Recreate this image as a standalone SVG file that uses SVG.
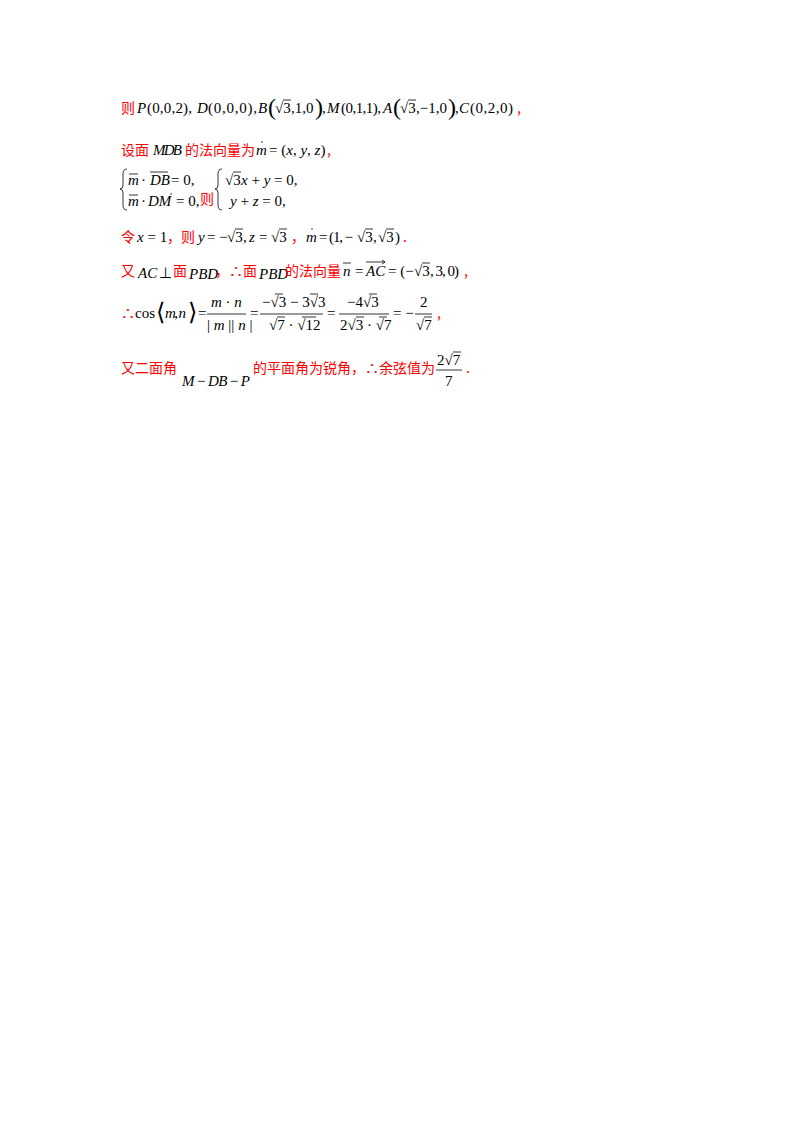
<svg xmlns="http://www.w3.org/2000/svg" width="800" height="1132" viewBox="0 0 800 1132">
<style>
.r{fill:#f00;font-family:"Noto Sans CJK SC",sans-serif;font-size:14px}
.m{fill:#000;font-family:"Liberation Serif",serif;font-size:15px}
.i{font-style:italic}
.big{font-size:24px;font-family:"Liberation Serif",serif;fill:#000}
line,path{stroke:#000;stroke-width:0.8;fill:none}
</style>
<rect width="800" height="1132" fill="#fff"/>
<g id="line1">
<text x="121" y="113" class="r">则</text>
<text x="137" y="113" class="m i">P</text><text x="147" y="113" class="m" textLength="45">(0,0,2),</text>
<text x="197" y="113" class="m i">D</text><text x="208" y="113" class="m" textLength="49">(0,0,0),</text>
<text x="258" y="113" class="m i">B</text><text x="268" y="115" class="big">(</text>
<text x="275" y="113" class="m">√3</text><line x1="283" y1="100" x2="291" y2="100"/>
<text x="291" y="113" class="m">,1,0</text><text x="315" y="115" class="big">)</text><text x="322" y="113" class="m">,</text>
<text x="327" y="113" class="m i">M</text><text x="341" y="113" class="m" textLength="40">(0,1,1),</text>
<text x="383" y="113" class="m i">A</text><text x="393" y="115" class="big">(</text>
<text x="400" y="113" class="m">√3</text><line x1="408" y1="100" x2="416" y2="100"/>
<text x="416" y="113" class="m">,−1,0</text><text x="448" y="115" class="big">)</text><text x="455" y="113" class="m">,</text>
<text x="459" y="113" class="m i">C</text><text x="470" y="113" class="m" textLength="43">(0,2,0)</text>
<text x="517" y="113" class="r">,</text>
</g>
<g id="line2">
<text x="121" y="155" class="r">设面</text>
<text x="153" y="155" class="m i" font-size="14" textLength="29">MDB</text>
<text x="185" y="155" class="r">的法向量为</text>
<text x="256" y="155" class="m i">m</text><circle cx="262" cy="142" r="0.7"/>
<text x="269" y="155" class="m">= (<tspan class="i">x</tspan>, <tspan class="i">y</tspan>, <tspan class="i">z</tspan>)</text>
<text x="327" y="155" class="r">,</text>
</g>
<g id="line3">
<path d="M127,169 Q123,169 123,174 L123,185 Q123,189 120,189 Q123,189 123,193 L123,205 Q123,210 127,210"/>
<text x="128" y="185" class="m i">m</text><line x1="129" y1="174" x2="138" y2="174"/>
<text x="141" y="185" class="m">·</text>
<text x="150" y="185" class="m i">DB</text><line x1="150" y1="172" x2="168" y2="172"/>
<text x="171" y="185" class="m">= 0,</text>
<text x="128" y="206" class="m i">m</text><line x1="129" y1="195" x2="138" y2="195"/>
<text x="141" y="206" class="m">·</text>
<text x="148" y="206" class="m i">DM</text><circle cx="171" cy="194" r="0.7"/>
<text x="176" y="206" class="m">= 0,</text>
<text x="200" y="204" class="r">则</text>
<path d="M222,169 Q218,169 218,174 L218,185 Q218,189 215,189 Q218,189 218,193 L218,205 Q218,210 222,210"/>
<text x="225" y="185" class="m">√3</text><line x1="233" y1="172" x2="241" y2="172"/>
<text x="241" y="185" class="m"><tspan class="i">x</tspan> + <tspan class="i">y</tspan> = 0,</text>
<text x="230" y="206" class="m"><tspan class="i">y</tspan> + <tspan class="i">z</tspan> = 0,</text>
</g>
<g id="line4">
<text x="121" y="242" class="r">令</text>
<text x="137" y="242" class="m"><tspan class="i">x</tspan> = 1</text>
<text x="167" y="242" class="r">，则</text>
<text x="198" y="242" class="m i">y</text><text x="207" y="242" class="m">= −</text>
<text x="227" y="242" class="m">√3</text><line x1="235" y1="229" x2="243" y2="229"/>
<text x="243" y="242" class="m">,</text><text x="249" y="242" class="m i">z</text><text x="259" y="242" class="m">=</text>
<text x="271" y="242" class="m">√3</text><line x1="279" y1="229" x2="287" y2="229"/>
<text x="291" y="242" class="r">，</text>
<text x="306" y="242" class="m i">m</text><circle cx="312" cy="229" r="0.7"/>
<text x="319" y="242" class="m" textLength="34">= (1, −</text>
<text x="357" y="242" class="m">√3</text><line x1="365" y1="229" x2="373" y2="229"/>
<text x="373" y="242" class="m">,</text>
<text x="378" y="242" class="m">√3</text><line x1="386" y1="229" x2="394" y2="229"/>
<text x="395" y="242" class="m">)</text>
<text x="403" y="242" class="r">.</text>
</g>
<g id="line5">
<text x="121" y="276" class="r">又</text>
<text x="138" y="278" class="m i" font-size="13">AC</text><text x="159" y="278" class="m" font-size="13">⊥</text>
<text x="173" y="276" class="r">面</text>
<text x="189" y="279" class="m i" font-size="13">PBD</text>
<text x="215" y="276" class="r">，∴面</text>
<text x="259" y="279" class="m i" font-size="13">PBD</text>
<text x="285" y="276" class="r">的法向量</text>
<text x="343" y="276" class="m i">n</text><line x1="343" y1="263" x2="351" y2="263"/>
<text x="355" y="276" class="m">=</text>
<text x="366" y="276" class="m i">AC</text><line x1="366" y1="262" x2="385" y2="262"/><path d="M382,260 L385,262 L382,264"/>
<text x="388" y="276" class="m">= (−</text>
<text x="414" y="276" class="m">√3</text><line x1="422" y1="263" x2="430" y2="263"/>
<text x="430" y="276" class="m" textLength="29">, 3, 0)</text>
<text x="464" y="276" class="r">,</text>
</g>
<g id="line6">
<text x="121" y="318" class="r">∴</text>
<text x="135" y="318" class="m">cos</text>
<text x="156" y="320" class="big" font-size="22">⟨</text>
<text x="165" y="318" class="m" textLength="21"><tspan class="i">m</tspan>, <tspan class="i">n</tspan></text>
<text x="188" y="320" class="big" font-size="22">⟩</text>
<text x="198" y="318" class="m">=</text>
<text x="211" y="307" class="m"><tspan class="i">m</tspan> · <tspan class="i">n</tspan></text>
<line x1="207" y1="314" x2="246" y2="314"/>
<text x="207" y="330" class="m">| <tspan class="i">m</tspan> || <tspan class="i">n</tspan> |</text>
<text x="250" y="318" class="m">=</text>
<text x="262" y="307" class="m">−√3 − 3√3</text>
<line x1="275" y1="294" x2="283" y2="294"/><line x1="310" y1="294" x2="318" y2="294"/>
<line x1="260" y1="314" x2="323" y2="314"/>
<text x="269" y="330" class="m">√7 · √12</text>
<line x1="277" y1="317" x2="285" y2="317"/><line x1="302" y1="317" x2="316" y2="317"/>
<text x="327" y="318" class="m">=</text>
<text x="347" y="307" class="m">−4√3</text>
<line x1="369" y1="294" x2="377" y2="294"/>
<line x1="339" y1="314" x2="389" y2="314"/>
<text x="340" y="330" class="m">2√3 · √7</text>
<line x1="356" y1="317" x2="364" y2="317"/><line x1="379" y1="317" x2="387" y2="317"/>
<text x="393" y="318" class="m">= −</text>
<text x="420" y="307" class="m">2</text>
<line x1="415" y1="314" x2="432" y2="314"/>
<text x="416" y="330" class="m">√7</text>
<line x1="424" y1="317" x2="432" y2="317"/>
<text x="437" y="318" class="r">,</text>
</g>
<g id="line7">
<text x="121" y="373" class="r">又二面角</text>
<text x="182" y="386" class="m" textLength="68"><tspan class="i">M</tspan> − <tspan class="i">DB</tspan> − <tspan class="i">P</tspan></text>
<text x="253" y="373" class="r">的平面角为锐角，∴余弦值为</text>
<text x="437" y="365" class="m">2√7</text>
<line x1="453" y1="352" x2="461" y2="352"/>
<line x1="436" y1="370" x2="462" y2="370"/>
<text x="445" y="386" class="m">7</text>
<text x="466" y="373" class="r">.</text>
</g>
</svg>
